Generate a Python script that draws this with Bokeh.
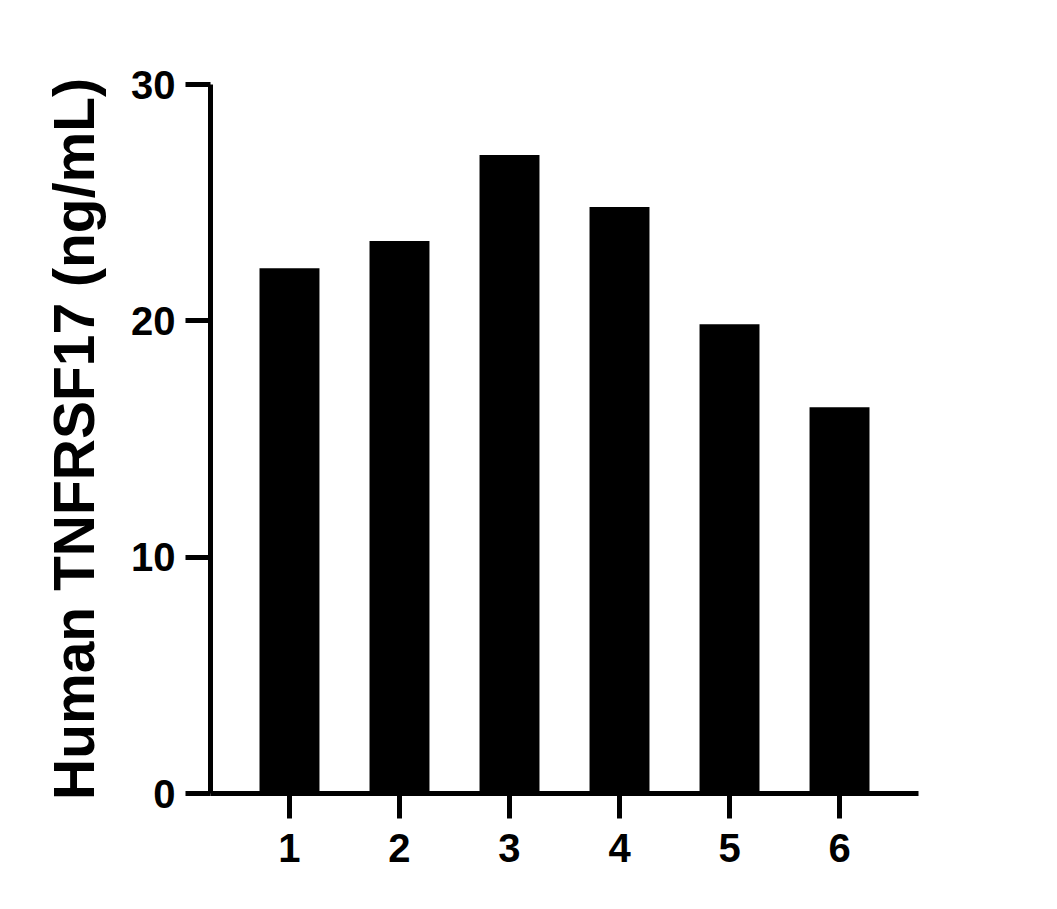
from bokeh.plotting import figure
from bokeh.models import FactorRange, Range1d, FixedTicker
from bokeh.embed import file_html
from bokeh.resources import INLINE

categories = ["1", "2", "3", "4", "5", "6"]
values = [22.22, 23.38, 27.02, 24.82, 19.86, 16.34]
y_ticks = [0, 10, 20, 30]
y_label = "Human TNFRSF17 (ng/mL)"

W, H = 1041, 893
p = figure(
    width=W, height=H,
    x_range=FactorRange(factors=categories, range_padding=0.218, range_padding_units="absolute"),
    y_range=Range1d(0, 30),
    output_backend="svg", toolbar_location=None,
    min_border_left=210, min_border_right=123, min_border_top=84, min_border_bottom=100,
)
p.vbar(x=categories, top=values, width=0.545, bottom=0, fill_color="black", line_color=None)

p.xgrid.visible = False
p.ygrid.visible = False
p.outline_line_color = None
p.background_fill_color = "white"
p.border_fill_color = "white"

font = "Liberation Sans"
for ax in (p.xaxis[0], p.yaxis[0]):
    ax.axis_line_width = 5
    ax.axis_line_color = "black"
    ax.major_tick_line_width = 5
    ax.major_tick_line_color = "black"
    ax.major_tick_out = 25
    ax.major_tick_in = 0
    ax.minor_tick_line_color = None
    ax.major_label_text_font = font
    ax.major_label_text_font_style = "bold"
    ax.major_label_text_font_size = "40px"
    ax.major_label_text_color = "black"
    ax.major_label_standoff = 10

p.yaxis[0].ticker = FixedTicker(ticks=y_ticks)
p.yaxis[0].axis_label = y_label
p.yaxis[0].axis_label_text_font = font
p.yaxis[0].axis_label_text_font_style = "bold"
p.yaxis[0].axis_label_text_font_size = "57px"
p.yaxis[0].axis_label_text_color = "black"
p.yaxis[0].axis_label_standoff = 22
p.xaxis[0].major_label_standoff = 15

open("out.html", "w").write(file_html(p, INLINE))
